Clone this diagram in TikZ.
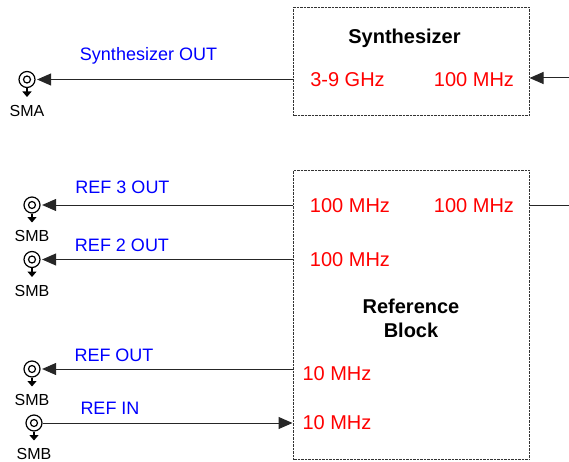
\documentclass[tikz,border=0pt]{standalone}
\usepackage{xcolor}
\usepackage{fontspec}
\setmainfont{Liberation Sans}
\usepackage{tikz}
\usetikzlibrary{positioning, arrows.meta}
\definecolor{freqred}{RGB}{255, 0, 0}
\definecolor{portblue}{RGB}{0, 0, 255}
\tikzset{
  blockbox/.style={draw=black!80, dash pattern=on 1pt off 0.4pt, line width=1pt, minimum width=235.5pt, inner sep=0pt, anchor=north west},
  freqlabel/.style={text=freqred, font=\fontsize{20}{20}\selectfont, inner sep=0pt},
  portlabel/.style={text=portblue, font=\fontsize{18}{18}\selectfont, inner sep=0pt},
  jacklabel/.style={font=\fontsize{16}{16}\selectfont, inner sep=0pt},
  titlelabel/.style={font=\fontsize{20}{24}\selectfont\bfseries, align=center, inner sep=0pt},
  jackouter/.style={circle, draw, line width=1.2pt, minimum size=16pt, inner sep=0pt},
  jackinner/.style={circle, draw, line width=1.2pt, minimum size=7pt, inner sep=0pt},
  signal/.style={draw=black!85, line width=1pt},
  inarrow/.style={signal, -{Triangle[length=14pt,width=12pt]}},
  gnd/.style={line width=1.2pt, -{Triangle[length=5.5pt,width=9pt]}}
}
\begin{document}
\begin{tikzpicture}[x=1pt, y=-1pt]
\useasboundingbox (0,0) rectangle (569,462);
% blocks
\node[blockbox, minimum height=108.6pt] (synth) at (293,6.7) {};
\node[blockbox, minimum height=289pt] (refblock) at (293,170) {};
\node[titlelabel] (synthtitle) at (404.5,38) {Synthesizer};
\node[titlelabel] (reftitle) at (411,318) {Reference\\Block};
% frequencies
\node[freqlabel] (f3g) at (347.5,79.5) {3-9 GHz};
\node[freqlabel] (f100s) at (474,79.5) {100 MHz};
\node[freqlabel] (f100a) at (350,205.5) {100 MHz};
\node[freqlabel] (f100b) at (474,205.5) {100 MHz};
\node[freqlabel] (f100c) at (350,259.5) {100 MHz};
\node[freqlabel] (f10a) at (337,373.5) {10 MHz};
\node[freqlabel] (f10b) at (337,422.5) {10 MHz};
% jacks
\foreach \jname/\jx/\jy/\jtext in {a/27/79.5/SMA, b/32/205/SMB, c/32/259.5/SMB, d/32/369/SMB, e/34/423/SMB}{
  \node[jackouter] (jack\jname) at (\jx,\jy) {};
  \node[jackinner] at (jack\jname) {};
  \coordinate (gnd\jname) at (\jx,\jy+17.5);
  \draw[gnd] (jack\jname.south) -- (gnd\jname);
  \node[jacklabel] (lab\jname) at (\jx,\jy+31) {\jtext};
}
% ports
\node[portlabel] (psyn) at (148.5,56) {Synthesizer OUT};
\node[portlabel] (pref3) at (122.5,187) {REF 3 OUT};
\node[portlabel] (pref2) at (122,245) {REF 2 OUT};
\node[portlabel] (prefo) at (114,355) {REF OUT};
\node[portlabel] (prefi) at (110,408) {REF IN};
% connectors
\coordinate (edgeS) at (569,78);
\coordinate (edgeR) at (569,205.5);
\draw[inarrow] (synth.west |- jacka) -- ([xshift=1.5pt]jacka.east);
\draw[inarrow] (refblock.west |- jackb) -- ([xshift=1.5pt]jackb.east);
\draw[inarrow] (refblock.west |- jackc) -- ([xshift=1.5pt]jackc.east);
\draw[inarrow] (refblock.west |- jackd) -- ([xshift=1.5pt]jackd.east);
\draw[inarrow] (jacke.east) -- ([xshift=-0.5pt]refblock.west |- jacke);
\draw[inarrow] (edgeS) -- (synth.east |- edgeS);
\draw[signal] (refblock.east |- edgeR) -- (edgeR);
\end{tikzpicture}
\end{document}
